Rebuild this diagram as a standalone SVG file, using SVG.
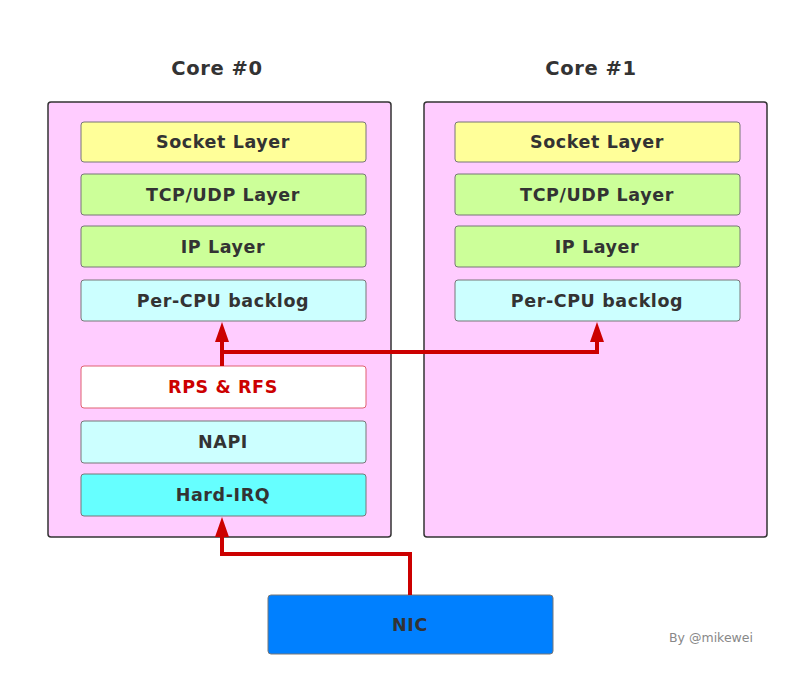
<svg xmlns="http://www.w3.org/2000/svg" width="799" height="686" viewBox="0 0 799 686">
<style>
.core{fill:#FFCCFF;stroke:#333;stroke-width:1.5}
.box{stroke:#777;stroke-width:1}
.lbl{font-family:"DejaVu Sans",Verdana,sans-serif;font-weight:bold;font-size:17.5px;letter-spacing:0.6px;fill:#333;text-anchor:middle;dominant-baseline:central}
.title{font-family:"DejaVu Sans",Verdana,sans-serif;font-weight:bold;font-size:19.5px;letter-spacing:0.6px;fill:#333;text-anchor:middle;dominant-baseline:central}
.wire{fill:none;stroke:#CC0000;stroke-width:4}
</style>
<defs>
<marker id="ah" markerWidth="20" markerHeight="14" refX="0" refY="7" orient="auto" markerUnits="userSpaceOnUse" viewBox="0 0 20 14">
<path d="M0,0 L20,7 L0,14 Z" fill="#CC0000"/>
</marker>
</defs>
<rect width="799" height="686" fill="#fff"/>
<g id="core0">
<text class="title" x="217" y="68">Core #0</text>
<rect class="core" x="48" y="102" width="343" height="435" rx="3"/>
</g>
<g id="core1">
<text class="title" x="591" y="68">Core #1</text>
<rect class="core" x="424" y="102" width="343" height="435" rx="3"/>
</g>
<g id="c0-socket"><rect class="box" x="81" y="122" width="285" height="40" rx="3" fill="#FFFF99"/><text class="lbl" x="223" y="142">Socket Layer</text></g>
<g id="c0-tcp"><rect class="box" x="81" y="174" width="285" height="41" rx="3" fill="#CCFF99"/><text class="lbl" x="223" y="194.5">TCP/UDP Layer</text></g>
<g id="c0-ip"><rect class="box" x="81" y="226" width="285" height="41" rx="3" fill="#CCFF99"/><text class="lbl" x="223" y="246.5">IP Layer</text></g>
<g id="c0-backlog"><rect class="box" x="81" y="280" width="285" height="41" rx="3" fill="#CCFFFF"/><text class="lbl" x="223" y="300.5">Per-CPU backlog</text></g>
<g id="c0-rps"><rect x="81" y="366" width="285" height="42" rx="3" fill="#FFFFFF" stroke="#E06070" stroke-width="1"/><text class="lbl" x="223" y="387" style="fill:#CC0000">RPS &amp; RFS</text></g>
<g id="c0-napi"><rect class="box" x="81" y="421" width="285" height="42" rx="3" fill="#CCFFFF"/><text class="lbl" x="223" y="442">NAPI</text></g>
<g id="c0-irq"><rect class="box" x="81" y="474" width="285" height="42" rx="3" fill="#66FFFF"/><text class="lbl" x="223" y="495">Hard-IRQ</text></g>
<g id="c1-socket"><rect class="box" x="455" y="122" width="285" height="40" rx="3" fill="#FFFF99"/><text class="lbl" x="597" y="142">Socket Layer</text></g>
<g id="c1-tcp"><rect class="box" x="455" y="174" width="285" height="41" rx="3" fill="#CCFF99"/><text class="lbl" x="597" y="194.5">TCP/UDP Layer</text></g>
<g id="c1-ip"><rect class="box" x="455" y="226" width="285" height="41" rx="3" fill="#CCFF99"/><text class="lbl" x="597" y="246.5">IP Layer</text></g>
<g id="c1-backlog"><rect class="box" x="455" y="280" width="285" height="41" rx="3" fill="#CCFFFF"/><text class="lbl" x="597" y="300.5">Per-CPU backlog</text></g>
<g id="nic"><rect class="box" x="268" y="595" width="285" height="59" rx="3" fill="#0080FF"/><text class="lbl" x="410" y="625">NIC</text></g>
<g id="connectors">
<path class="wire" d="M410,595 V554 H222 V537" marker-end="url(#ah)"/>
<path class="wire" d="M222,366 V342" marker-end="url(#ah)"/>
<path class="wire" d="M222,352 H597 V342" marker-end="url(#ah)"/>
</g>
<text x="711" y="637" font-family="DejaVu Sans,Verdana,sans-serif" font-size="12.5" fill="#888" text-anchor="middle" dominant-baseline="central">By @mikewei</text>
</svg>
